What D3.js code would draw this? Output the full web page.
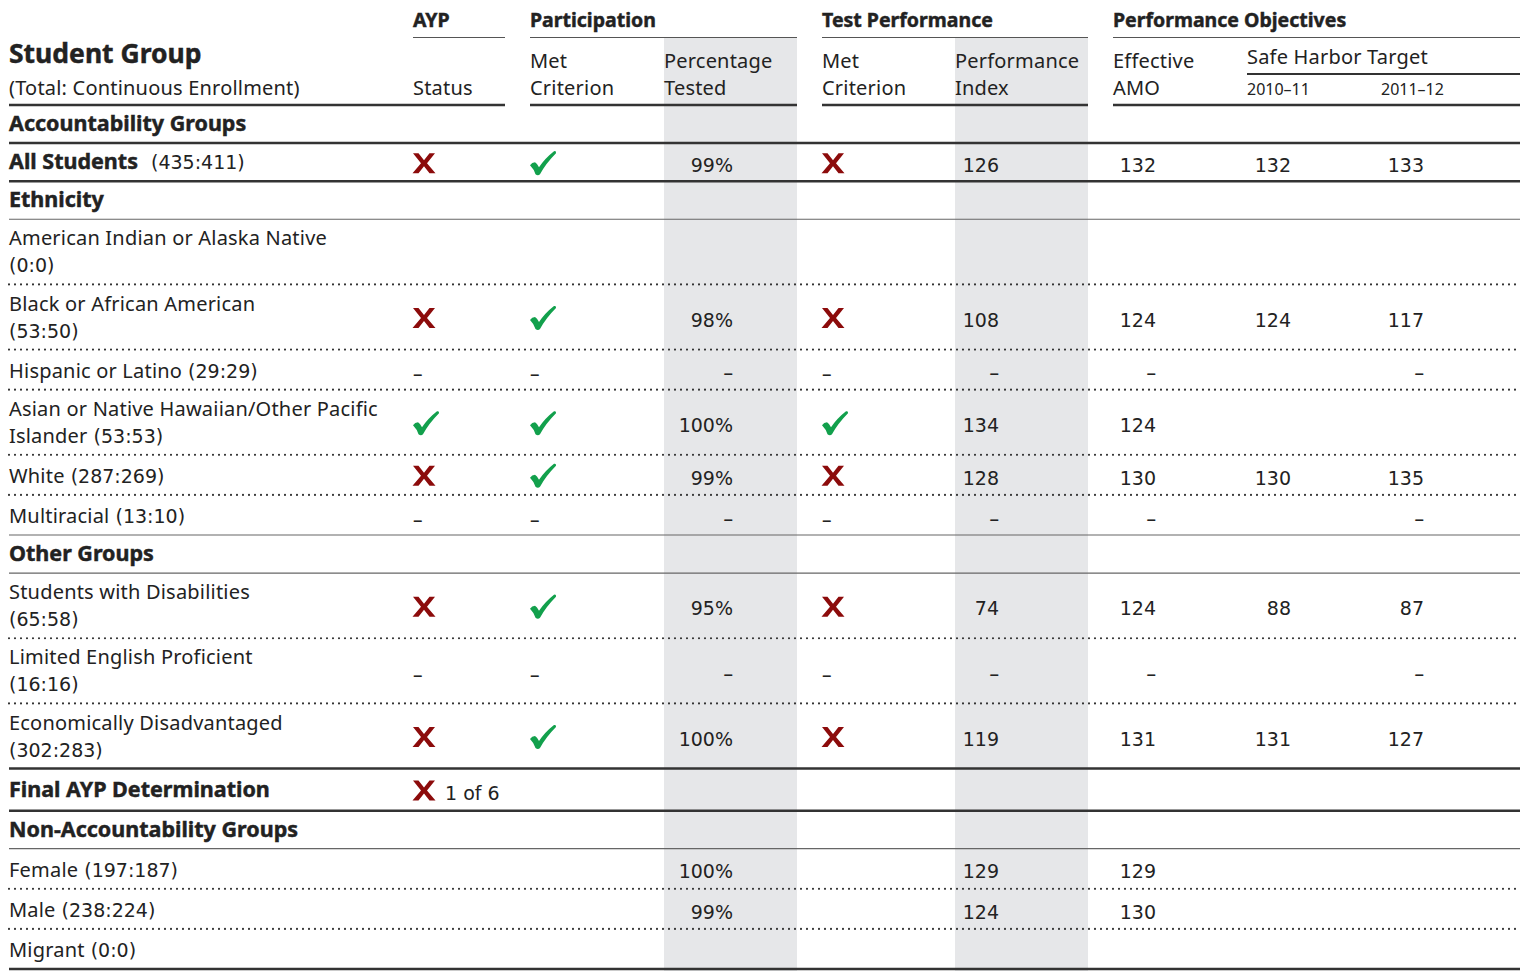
<!DOCTYPE html>
<html>
<head>
<meta charset="utf-8">
<script src="https://cdn.jsdelivr.net/npm/d3@7"></script>
<style>
  body { margin: 0; background: #fff; }
  svg { display: block; }
</style>
</head>
<body>
<div id="chart"></div>
<script>
// ---- table data ----
const rowKinds = ["section", "total", "section", "data", "data", "data", "data", "data", "data",
                  "section", "data", "data", "data", "final", "section", "data", "data", "data"];
const rowLabels = [
  ["Accountability Groups"], ["All Students"], ["Ethnicity"],
  ["American Indian or Alaska Native", ""], ["Black or African American", ""],
  ["Hispanic or Latino"], ["Asian or Native Hawaiian/Other Pacific", "Islander"],
  ["White"], ["Multiracial"], ["Other Groups"],
  ["Students with Disabilities", ""], ["Limited English Proficient", ""],
  ["Economically Disadvantaged", ""], ["Final AYP Determination"],
  ["Non-Accountability Groups"], ["Female"], ["Male"], ["Migrant"]
];
const rowCounts = [null, "(435:411)", null, "(0:0)", "(53:50)", "(29:29)", "(53:53)", "(287:269)",
                   "(13:10)", null, "(65:58)", "(16:16)", "(302:283)", null, null,
                   "(197:187)", "(238:224)", "(0:0)"];

// "x" = not met, "v" = met, "-" = not applicable, null = blank
const aypStatus     = [null, "x", null, null, "x", "-", "v", "x", "-", null, "x", "-", "x", "x", null, null, null, null];
const partMet       = [null, "v", null, null, "v", "-", "v", "v", "-", null, "v", "-", "v", null, null, null, null, null];
const pctTested     = [null, "99%", null, null, "98%", "-", "100%", "99%", "-", null, "95%", "-", "100%", null, null, "100%", "99%", null];
const testMet       = [null, "x", null, null, "x", "-", "v", "x", "-", null, "x", "-", "x", null, null, null, null, null];
const perfIndex     = [null, "126", null, null, "108", "-", "134", "128", "-", null, "74", "-", "119", null, null, "129", "124", null];
const effectiveAmo  = [null, "132", null, null, "124", "-", "124", "130", "-", null, "124", "-", "131", null, null, "129", "130", null];
const safeHarbor1011 = [null, "132", null, null, "124", null, null, "130", null, null, "88", null, "131", null, null, null, null, null];
const safeHarbor1112 = [null, "133", null, null, "117", "-", null, "135", "-", null, "87", "-", "127", null, null, null, null, null];
const finalNote = "1 of 6";

const groupHeads = ["AYP", "Participation", "Test Performance", "Performance Objectives"];
const subHeads = [["", "Status"], ["Met", "Criterion"], ["Percentage", "Tested"], ["Met", "Criterion"],
                  ["Performance", "Index"], ["Effective", "AMO"]];
const safeHarborHead = "Safe Harbor Target";
const yearHeads = ["2010–11", "2011–12"];

// ---- layout ----
const W = 1525, H = 971;
const bodyFont = "'Noto Sans', 'Open Sans', sans-serif";
const numFont = "'DejaVu Sans', 'Noto Sans', sans-serif";
const headFont = "'Noto Sans', sans-serif";
const ink = "#222";
const red = "#8c0b0b", green = "#12a04c";

const svg = d3.select("#chart").append("svg")
  .attr("width", W).attr("height", H);

// column starts
const colX = { label: 9, ayp: 413, partMet: 530, pct: 664, testMet: 822, pi: 955, amo: 1113, sh1: 1247, sh2: 1381 };
const groupSpans = [[413, 505], [530, 797], [822, 1088], [1113, 1520]];
const right = 1520;

// row heights in units, mapped onto the page through a linear scale
const rowUnits = rowKinds.map((k, i) => {
  if (k === "section" || k === "total") return 38;
  if (k === "final") return 42;
  return rowLabels[i].length > 1 ? 65 : 40;
});
const cum = [0];
rowUnits.forEach(u => cum.push(cum[cum.length - 1] + u));
const y = d3.scaleLinear().domain([0, cum[cum.length - 1]]).range([105, 969]);

function heading(sel, size) {
  return sel.attr("font-family", headFont).attr("font-weight", 700)
    .attr("font-size", size).attr("letter-spacing", 0)
    .attr("stroke", ink).attr("stroke-width", 0.45);
}

// shaded columns
[[colX.pct, 797], [colX.pi, 1088]].forEach(([x0, x1]) => {
  svg.append("rect")
    .attr("x", x0).attr("y", 38)
    .attr("width", x1 - x0).attr("height", H - 38)
    .attr("fill", "#e6e7e9");
});

// ---- header ----
const head = svg.append("g");
groupHeads.forEach((t, i) => {
  heading(head.append("text"), 19.5)
    .attr("x", groupSpans[i][0]).attr("y", 20).attr("dy", "0.35em")
    .attr("fill", ink).text(t);
  head.append("line")
    .attr("x1", groupSpans[i][0]).attr("x2", groupSpans[i][1])
    .attr("y1", 37.5).attr("y2", 37.5)
    .attr("stroke", "#555").attr("stroke-width", 1);
});

heading(head.append("text"), 26.5)
  .attr("x", colX.label).attr("y", 54).attr("dy", "0.35em")
  .attr("fill", ink).text("Student Group");
head.append("text")
  .attr("x", colX.label).attr("y", 88).attr("dy", "0.35em")
  .attr("font-family", bodyFont).attr("font-size", 20).attr("letter-spacing", 0.2)
  .attr("fill", ink).text("(Total: Continuous Enrollment)");

const subX = [colX.ayp, colX.partMet, colX.pct, colX.testMet, colX.pi, colX.amo];
subHeads.forEach((lines, i) => {
  lines.forEach((t, j) => {
    if (!t) return;
    head.append("text")
      .attr("x", subX[i]).attr("y", j === 0 ? 61 : 88).attr("dy", "0.35em")
      .attr("font-family", bodyFont).attr("font-size", 20).attr("letter-spacing", 0.2)
      .attr("fill", ink).text(t);
  });
});
head.append("text")
  .attr("x", colX.sh1).attr("y", 57).attr("dy", "0.35em")
  .attr("font-family", bodyFont).attr("font-size", 20).attr("letter-spacing", 0.2)
  .attr("fill", ink).text(safeHarborHead);
head.append("line")
  .attr("x1", colX.sh1).attr("x2", right).attr("y1", 74).attr("y2", 74)
  .attr("stroke", "#333").attr("stroke-width", 2.2);
yearHeads.forEach((t, i) => {
  head.append("text")
    .attr("x", i === 0 ? colX.sh1 : colX.sh2).attr("y", 89).attr("dy", "0.35em")
    .attr("font-family", bodyFont).attr("font-size", 16)
    .attr("fill", ink).text(t);
});
[[colX.label, 505], [530, 797], [822, 1088], [1113, right]].forEach(([a, b]) => {
  head.append("line")
    .attr("x1", a).attr("x2", b).attr("y1", 105).attr("y2", 105)
    .attr("stroke", "#333").attr("stroke-width", 2.5);
});

// ---- marks ----
function drawCross(g, cx, cy) {
  g.append("path")
    .attr("transform", `translate(${cx},${cy})`)
    .attr("d", "M-11,-10 L-5.5,-10 L0,-3 L5.5,-10 L11,-10 L3,0 L11.5,10 L5.5,10 L0,3 L-5.5,10 L-11.5,10 L-3,0 Z")
    .attr("fill", red);
}
function drawCheck(g, cx, cy) {
  g.append("path")
    .attr("transform", `translate(${cx},${cy})`)
    .attr("d", "M-13,2 Q-11,-1 -8,-1 Q-6,0 -4,4 Q2,-5 11,-12 Q13.5,-12.5 13,-10 Q3,0 -3,11 Q-5,13 -7.5,11 Q-9,6 -13,2 Z")
    .attr("fill", green);
}
function drawDash(g, x, cy, anchor) {
  g.append("text")
    .attr("x", x).attr("y", cy + 4).attr("dy", "0.35em")
    .attr("text-anchor", anchor)
    .attr("font-family", bodyFont).attr("font-size", 19)
    .attr("fill", ink).text("–");
}
function drawMark(g, v, x, cy) {
  if (v === "x") drawCross(g, x + 11, cy);
  else if (v === "v") drawCheck(g, x + 13, cy);
  else if (v === "-") drawDash(g, x, cy, "start");
}
function drawValue(g, v, xr, cy) {
  if (v === null) return;
  if (v === "-") { drawDash(g, xr, cy, "end"); return; }
  g.append("text")
    .attr("x", xr).attr("y", cy + 3).attr("dy", "0.35em")
    .attr("text-anchor", "end")
    .attr("font-family", numFont).attr("font-size", 19)
    .attr("fill", ink).text(v);
}

// ---- body rows ----
const body = svg.append("g");
rowKinds.forEach((kind, i) => {
  const top = y(cum[i]), bot = y(cum[i + 1]);
  const mid = (top + bot) / 2;
  const lines = rowLabels[i];

  if (kind === "section" || kind === "total" || kind === "final") {
    const t = body.append("text")
      .attr("x", colX.label).attr("y", mid + 1.5).attr("dy", "0.35em")
      .attr("fill", ink);
    heading(t.append("tspan"), 21.5).text(lines[0]);
    if (rowCounts[i]) {
      t.append("tspan").attr("dx", 13)
        .attr("font-family", numFont).attr("font-size", 19)
        .attr("stroke", "none")
        .text(rowCounts[i]);
    }
  } else {
    const ys = lines.length > 1 ? [mid - 12, mid + 15] : [mid + 2.5];
    lines.forEach((ln, j) => {
      const t = body.append("text")
        .attr("x", colX.label).attr("y", ys[j]).attr("dy", "0.35em")
        .attr("fill", ink);
      t.append("tspan")
        .attr("font-family", bodyFont).attr("font-size", 20).attr("letter-spacing", 0.2)
        .text(ln);
      if (j === lines.length - 1 && rowCounts[i]) {
        t.append("tspan").attr("dx", ln ? 6 : 0)
          .attr("font-family", numFont).attr("font-size", 19)
          .text(rowCounts[i]);
      }
    });
  }

  // cells
  drawMark(body, aypStatus[i], colX.ayp, mid + 1);
  drawMark(body, partMet[i], colX.partMet, mid + 1);
  drawMark(body, testMet[i], colX.testMet, mid + 1);
  drawValue(body, pctTested[i], 733, mid);
  drawValue(body, perfIndex[i], 999, mid);
  drawValue(body, effectiveAmo[i], 1156, mid);
  drawValue(body, safeHarbor1011[i], 1291, mid);
  drawValue(body, safeHarbor1112[i], 1424, mid);

  if (kind === "final") {
    body.append("text")
      .attr("x", 445).attr("y", mid + 4).attr("dy", "0.35em")
      .attr("font-family", numFont).attr("font-size", 19)
      .attr("fill", ink).text(finalNote);
  }

  // rule under the row
  const next = rowKinds[i + 1];
  let style;
  if (kind === "section") style = next === "total" ? "thick" : "thin";
  else if (kind === "total" || kind === "final" || next === undefined) style = "thick";
  else if (next === "final") style = "thick";
  else if (next === "section") style = "thin";
  else style = "dots";

  const rule = body.append("line")
    .attr("x1", colX.label).attr("x2", right)
    .attr("y1", bot).attr("y2", bot);
  if (style === "thick") rule.attr("stroke", "#333").attr("stroke-width", 2.5);
  else if (style === "thin") rule.attr("stroke", "#666").attr("stroke-width", 1.2);
  else rule.attr("stroke", "#333").attr("stroke-width", 2.2)
    .attr("stroke-linecap", "round").attr("stroke-dasharray", "0,6");
});
</script>
</body>
</html>
